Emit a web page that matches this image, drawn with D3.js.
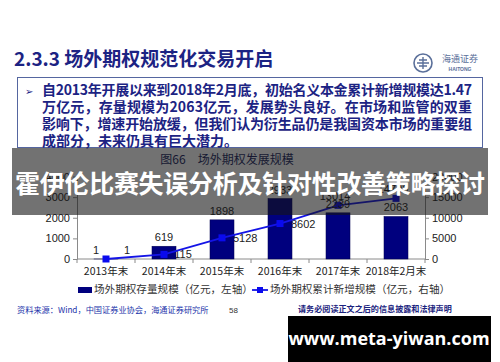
<!DOCTYPE html>
<html>
<head>
<meta charset="utf-8">
<script src="https://cdn.jsdelivr.net/npm/d3@7"></script>
<style>
  body { margin: 0; background: #fff; }
  svg { display: block; }
</style>
</head>
<body>
<svg id="chart" width="500" height="362"></svg>
<script>
// chart data
var categories = ["2013年末", "2014年末", "2015年末", "2016年末", "2017年末", "2018年2月末"];
var stockValues = [1, 619, 1898, 2933, 2239, 2063];          // 存量规模, left axis
var cumulativeValues = [1, 1115, 5128, 8602, 13014, 14700];  // 累计新增规模, right axis
var leftTicks = [0, 1000, 2000, 3000, 4000];
var rightTicks = [0, 5000, 10000, 15000, 20000];

var bulletLines = [
  "自2013年开展以来到2018年2月底，初始名义本金累计新增规模达1.47",
  "万亿元，存量规模为2063亿元，发展势头良好。在市场和监管的双重",
  "影响下，增速开始放缓，但我们认为衍生品仍是我国资本市场的重要组",
  "成部分，未来仍具有巨大潜力。"
];

var navy = "#1c2383";
var cjk = "'Noto Sans CJK SC', sans-serif";
var latin = "'Liberation Sans', Arial, sans-serif";

var svg = d3.select("#chart");

// ---- slide header ----
svg.append("text")
  .attr("x", 14).attr("y", 66)
  .attr("font-family", cjk).attr("font-weight", "bold")
  .attr("font-size", 19).attr("fill", navy)
  .text("2.3.3 场外期权规范化交易开启");

// logo
var logo = svg.append("g").attr("transform", "translate(423,63)");
logo.append("circle").attr("r", 9).attr("fill", "none").attr("stroke", "#5a6f9a").attr("stroke-width", 1.6);
logo.append("path").attr("d", "M-6,0H6M0,-6V6M-4,-3H4M-4,3H4").attr("stroke", "#5a6f9a").attr("stroke-width", 1.4);
svg.append("text").attr("x", 460).attr("y", 62).attr("text-anchor", "middle")
  .attr("font-family", cjk).attr("font-size", 9).attr("fill", "#5a6f9a").text("海通证券");
svg.append("text").attr("x", 460).attr("y", 71).attr("text-anchor", "middle")
  .attr("font-family", latin).attr("font-weight", "bold").attr("font-size", 5).attr("fill", "#5a6f9a").text("HAITONG");

// bullet box
svg.append("rect")
  .attr("x", 17.5).attr("y", 77.5).attr("width", 465).attr("height", 70)
  .attr("fill", "#fff").attr("stroke", "#5566a0").attr("stroke-width", 1);
svg.append("text").attr("x", 25).attr("y", 95)
  .attr("font-family", cjk).attr("font-size", 10).attr("fill", navy).text("➢");
svg.selectAll("text.bullet")
  .data(bulletLines)
  .enter().append("text")
  .attr("class", "bullet")
  .attr("x", 42)
  .attr("y", function(d, i) { return 95 + i * 17; })
  .attr("font-family", cjk).attr("font-weight", "bold")
  .attr("font-size", 14).attr("fill", navy)
  .attr("textLength", function(d, i) { return i === 3 ? null : 430; })
  .text(function(d) { return d; });

// chart caption
svg.append("text")
  .attr("x", 227).attr("y", 164).attr("text-anchor", "middle")
  .attr("font-family", cjk).attr("font-size", 12).attr("fill", "#1a1f60")
  .text("图66　场外期权发展规模");

// ---- chart ----
var plot = { left: 77, right: 425, top: 176.5, bottom: 259 };

var x = d3.scaleBand()
  .domain(categories)
  .range([plot.left, plot.right])
  .paddingInner(0.586)
  .paddingOuter(0.293);

var yLeft = d3.scaleLinear().domain([0, 4000]).range([plot.bottom, plot.top]);
var yRight = d3.scaleLinear().domain([0, 20000]).range([plot.bottom, plot.top]);

var axisColor = "#8a8a8a";
var tickFont = function(sel) {
  sel.selectAll("text").attr("font-family", latin).attr("font-size", 11).attr("fill", "#222");
  sel.selectAll("line").attr("stroke", axisColor);
  sel.select(".domain").attr("stroke", axisColor);
};

svg.append("g")
  .attr("transform", "translate(" + plot.left + ",0)")
  .call(d3.axisLeft(yLeft).tickValues(leftTicks).tickSize(4).tickSizeOuter(0).tickFormat(d3.format("d")))
  .call(tickFont);

svg.append("g")
  .attr("transform", "translate(" + plot.right + ",0)")
  .call(d3.axisRight(yRight).tickValues(rightTicks).tickSize(4).tickSizeOuter(0).tickFormat(d3.format("d")))
  .call(tickFont);

// x axis: ticks sit between categories
var xAxis = svg.append("g")
  .attr("transform", "translate(0," + plot.bottom + ")");
xAxis.append("line")
  .attr("x1", plot.left).attr("x2", plot.right)
  .attr("stroke", axisColor);
xAxis.selectAll("line.sep")
  .data(d3.range(categories.length + 1))
  .enter().append("line")
  .attr("class", "sep")
  .attr("x1", function(i) { return plot.left + i * x.step(); })
  .attr("x2", function(i) { return plot.left + i * x.step(); })
  .attr("y1", 0).attr("y2", 4)
  .attr("stroke", axisColor);
xAxis.selectAll("text")
  .data(categories)
  .enter().append("text")
  .attr("x", function(d) { return x(d) + x.bandwidth() / 2; })
  .attr("y", 16)
  .attr("text-anchor", "middle")
  .attr("font-family", cjk).attr("font-size", 10.5).attr("fill", "#222")
  .text(function(d) { return d; });

var rows = categories.map(function(c, i) {
  return { cat: c, stock: stockValues[i], cum: cumulativeValues[i] };
});
var cx = function(d) { return x(d.cat) + x.bandwidth() / 2; };

// line labels go first so the bars can cover their left edge, as in the slide
svg.selectAll("text.linelab")
  .data(rows)
  .enter().append("text")
  .attr("class", "linelab")
  .attr("x", function(d, i) { return i >= 4 ? cx(d) - 3 : cx(d) + (i === 0 ? 18 : (i === 1 ? 5 : 11)); })
  .attr("y", function(d, i) { return i >= 4 ? yRight(d.cum) - 5 : (i === 0 ? yLeft(d.stock) - 5 : yRight(d.cum) + 4); })
  .attr("text-anchor", function(d, i) { return i >= 4 ? "middle" : "start"; })
  .attr("font-family", latin).attr("font-size", 11).attr("fill", "#222")
  .text(function(d) { return d.cum; });

// bars
svg.selectAll("rect.bar")
  .data(rows)
  .enter().append("rect")
  .attr("class", "bar")
  .attr("x", function(d) { return x(d.cat); })
  .attr("y", function(d) { return yLeft(d.stock); })
  .attr("width", x.bandwidth())
  .attr("height", function(d) { return plot.bottom - yLeft(d.stock); })
  .attr("fill", "#00007e")
  .attr("stroke", "#000050").attr("stroke-width", 0.5);

// line + markers
var line = d3.line()
  .x(cx)
  .y(function(d) { return yRight(d.cum); });

svg.append("path")
  .datum(rows)
  .attr("d", line)
  .attr("fill", "none")
  .attr("stroke", "#1414e6")
  .attr("stroke-width", 1.8);

svg.selectAll("rect.marker")
  .data(rows)
  .enter().append("rect")
  .attr("class", "marker")
  .attr("x", function(d) { return cx(d) - 3.5; })
  .attr("y", function(d) { return yRight(d.cum) - 3.5; })
  .attr("width", 7).attr("height", 7)
  .attr("fill", "#0a0aee");

// bar labels
svg.selectAll("text.barlab")
  .data(rows)
  .enter().append("text")
  .attr("class", "barlab")
  .attr("x", function(d, i) { return i === 0 ? cx(d) - 10 : cx(d); })
  .attr("y", function(d) { return yLeft(d.stock) - 5; })
  .attr("text-anchor", "middle")
  .attr("font-family", latin).attr("font-size", 11).attr("fill", "#222")
  .text(function(d) { return d.stock; });

// legend
var legend = svg.append("g").attr("transform", "translate(0,291)");
legend.append("rect").attr("x", 78).attr("y", -4).attr("width", 14).attr("height", 6).attr("fill", "#00007e");
legend.append("text").attr("x", 94).attr("y", 2)
  .attr("font-family", cjk).attr("font-size", 10.6).attr("fill", "#333")
  .text("场外期权存量规模（亿元，左轴）");
legend.append("line").attr("x1", 252).attr("x2", 268).attr("y1", -1).attr("y2", -1)
  .attr("stroke", "#1414e6").attr("stroke-width", 1.8);
legend.append("rect").attr("x", 257).attr("y", -4).attr("width", 6).attr("height", 6).attr("fill", "#0a0aee");
legend.append("text").attr("x", 270).attr("y", 2)
  .attr("font-family", cjk).attr("font-size", 10.6).attr("fill", "#333")
  .text("场外期权累计新增规模（亿元，右轴）");

// footer
svg.append("text").attr("x", 17).attr("y", 313)
  .attr("font-family", cjk).attr("font-size", 8.2).attr("fill", "#2233aa")
  .text("资料来源：Wind，中国证券业协会，海通证券研究所");
svg.append("text").attr("x", 229).attr("y", 313)
  .attr("font-family", latin).attr("font-size", 8).attr("fill", "#333").text("58");
svg.append("text").attr("x", 298).attr("y", 312)
  .attr("font-family", cjk).attr("font-weight", "bold").attr("font-size", 8.1).attr("fill", "#1a237e")
  .text("请务必阅读正文之后的信息披露和法律声明");

// overlay banner
svg.append("rect")
  .attr("x", 12).attr("y", 148).attr("width", 476).attr("height", 67)
  .attr("fill", "rgba(20,20,20,0.6)");
svg.append("text")
  .attr("x", 250).attr("y", 193).attr("text-anchor", "middle")
  .attr("font-family", cjk).attr("font-weight", "bold")
  .attr("font-size", 25).attr("fill", "#fff")
  .attr("textLength", 470)
  .text("霍伊伦比赛失误分析及针对性改善策略探讨");

// watermark
svg.append("rect").attr("x", 288).attr("y", 316).attr("width", 203).attr("height", 46).attr("fill", "#000");
svg.append("text")
  .attr("x", 389).attr("y", 345).attr("text-anchor", "middle")
  .attr("font-family", "'Open Sans', 'DejaVu Sans', sans-serif").attr("font-weight", "bold")
  .attr("font-size", 18).attr("fill", "#fff")
  .text("www.meta-yiwan.com");
</script>
</body>
</html>
